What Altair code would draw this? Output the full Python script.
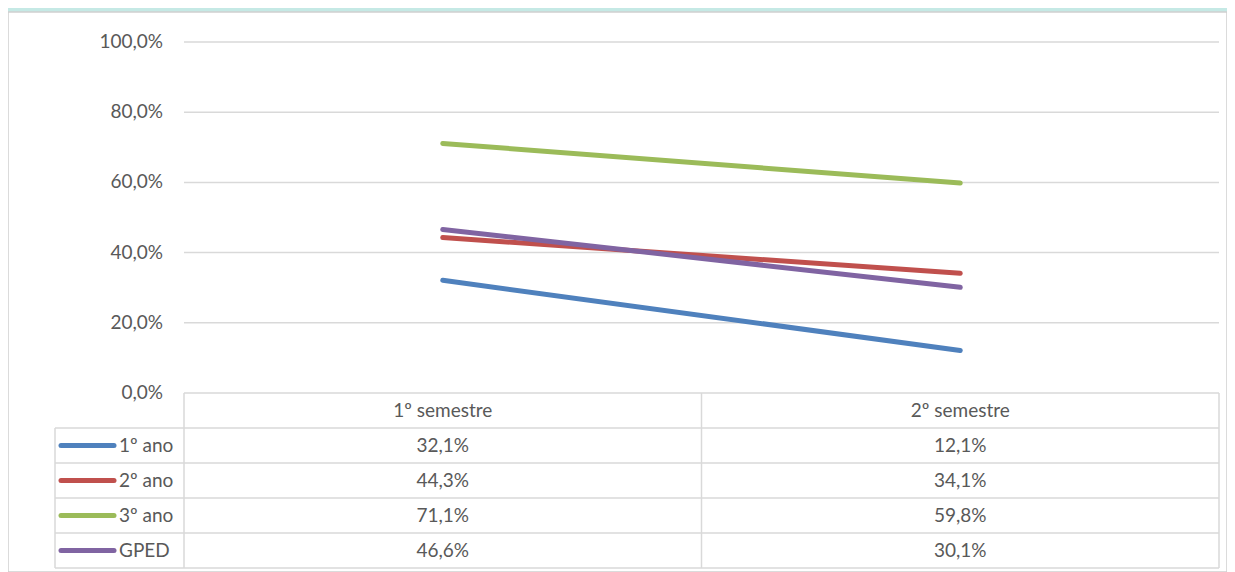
import altair as alt
import pandas as pd

# ---------------- data ----------------
categories = ["1º semestre", "2º semestre"]
series = ["1º ano", "2º ano", "3º ano", "GPED"]
sem1 = [32.1, 44.3, 71.1, 46.6]
sem2 = [12.1, 34.1, 59.8, 30.1]
colors = ["#4F81BD", "#C0504D", "#9BBB59", "#8064A2"]
y_ticks = [0, 20, 40, 60, 80, 100]

# ---------------- layout (page pixels) ----------------
PAGE_X0, PAGE_Y0 = 8, 12
W, H = 1219, 560
PLOT_L, PLOT_R = 184, 1219
PLOT_T, PLOT_B = 42, 393
ROW = 35
TABLE_L = 55
KEY_L, KEY_R, KEY_TXT = 61, 114, 119
LABEL_R = 163

band = (PLOT_R - PLOT_L) / 2.0
ppu = (PLOT_B - PLOT_T) / 100.0


def xd(px):
    return (px - PLOT_L) / band


def yd(py):
    return (PLOT_B - py) / ppu


x_dom = [xd(PAGE_X0), xd(PAGE_X0 + W)]
y_dom = [yd(PAGE_Y0 + H), yd(PAGE_Y0)]
rowu = ROW / ppu


def fmt(v):
    return f"{v:.1f}".replace(".", ",") + "%"


xscale = alt.Scale(domain=x_dom, nice=False, zero=False)
yscale = alt.Scale(domain=y_dom, nice=False, zero=False)
cscale = alt.Scale(domain=series, range=colors)

GRID = "#D9D9D9"
TXT = "#595959"
FONT = "Lato"
FS = 19

# gridlines (above 0; 0 is table top border)
grid_df = pd.DataFrame({"y": [t for t in y_ticks if t > 0], "x": 0.0, "x2": 2.0})
grid = alt.Chart(grid_df).mark_rule(color=GRID, strokeWidth=1.5).encode(
    x=alt.X("x:Q", scale=xscale, axis=None),
    x2="x2:Q",
    y=alt.Y("y:Q", scale=yscale, axis=None),
)

# y tick labels
tick_df = pd.DataFrame({"y": y_ticks, "label": [fmt(t) for t in y_ticks], "x": xd(LABEL_R)})
ticks = alt.Chart(tick_df).mark_text(align="right", baseline="middle", font=FONT,
                                     fontSize=FS, color=TXT).encode(
    x=alt.X("x:Q", scale=xscale, axis=None),
    y=alt.Y("y:Q", scale=yscale, axis=None),
    text="label:N",
)

# lines
rows = []
for s, a, b in zip(series, sem1, sem2):
    rows.append({"series": s, "x": 0.5, "y": a})
    rows.append({"series": s, "x": 1.5, "y": b})
line_df = pd.DataFrame(rows)
lines = alt.Chart(line_df).mark_line(strokeWidth=5, strokeCap="round", strokeJoin="round").encode(
    x=alt.X("x:Q", scale=xscale, axis=None),
    y=alt.Y("y:Q", scale=yscale, axis=None),
    color=alt.Color("series:N", scale=cscale, legend=None),
    detail="series:N",
)

# table horizontal borders
n_rows = len(series)
h_rows = [{"y": 0.0, "x": 0.0, "x2": 2.0}]
for i in range(1, n_rows + 2):
    h_rows.append({"y": -i * rowu, "x": xd(TABLE_L), "x2": 2.0})
h_df = pd.DataFrame(h_rows)
hlines = alt.Chart(h_df).mark_rule(color=GRID, strokeWidth=1.5).encode(
    x=alt.X("x:Q", scale=xscale, axis=None),
    x2="x2:Q",
    y=alt.Y("y:Q", scale=yscale, axis=None),
)

# table vertical borders
bottom = -(n_rows + 1) * rowu
v_df = pd.DataFrame([
    {"x": xd(TABLE_L), "y": -rowu, "y2": bottom},
    {"x": 0.0, "y": 0.0, "y2": bottom},
    {"x": 1.0, "y": 0.0, "y2": bottom},
    {"x": 2.0, "y": 0.0, "y2": bottom},
])
vlines = alt.Chart(v_df).mark_rule(color=GRID, strokeWidth=1.5).encode(
    x=alt.X("x:Q", scale=xscale, axis=None),
    y=alt.Y("y:Q", scale=yscale, axis=None),
    y2="y2:Q",
)

# header texts
head_df = pd.DataFrame({"label": categories, "x": [0.5, 1.5], "y": -0.5 * rowu})
head = alt.Chart(head_df).mark_text(align="center", baseline="middle", font=FONT,
                                    fontSize=FS, color=TXT).encode(
    x=alt.X("x:Q", scale=xscale, axis=None),
    y=alt.Y("y:Q", scale=yscale, axis=None),
    text="label:N",
)

# value cells
cell_rows = []
for i, (s, a, b) in enumerate(zip(series, sem1, sem2)):
    yy = -(i + 1.5) * rowu
    cell_rows.append({"x": 0.5, "y": yy, "label": fmt(a)})
    cell_rows.append({"x": 1.5, "y": yy, "label": fmt(b)})
cell_df = pd.DataFrame(cell_rows)
cells = alt.Chart(cell_df).mark_text(align="center", baseline="middle", font=FONT,
                                     fontSize=FS, color=TXT).encode(
    x=alt.X("x:Q", scale=xscale, axis=None),
    y=alt.Y("y:Q", scale=yscale, axis=None),
    text="label:N",
)

# legend keys in the table
key_df = pd.DataFrame({
    "series": series,
    "x": xd(KEY_L),
    "x2": xd(KEY_R),
    "y": [-(i + 1.5) * rowu for i in range(n_rows)],
    "tx": xd(KEY_TXT),
})
keys = alt.Chart(key_df).mark_rule(strokeWidth=5, strokeCap="round").encode(
    x=alt.X("x:Q", scale=xscale, axis=None),
    x2="x2:Q",
    y=alt.Y("y:Q", scale=yscale, axis=None),
    color=alt.Color("series:N", scale=cscale, legend=None),
)
key_txt = alt.Chart(key_df).mark_text(align="left", baseline="middle", font=FONT,
                                      fontSize=FS, color=TXT).encode(
    x=alt.X("tx:Q", scale=xscale, axis=None),
    y=alt.Y("y:Q", scale=yscale, axis=None),
    text="series:N",
)

chart = alt.layer(grid, ticks, lines, hlines, vlines, head, cells, keys, key_txt).properties(
    width=W,
    height=H,
    background="#C5E9E5",
    padding={"left": 0, "top": PAGE_Y0 - 8, "right": 0, "bottom": 0},
    autosize=alt.AutoSizeParams(type="none"),
).configure_view(
    fill="white",
    stroke="#D0D0D0",
    strokeWidth=1.5,
)

chart.save("out.html", embed_options={"renderer": "svg", "actions": False})
